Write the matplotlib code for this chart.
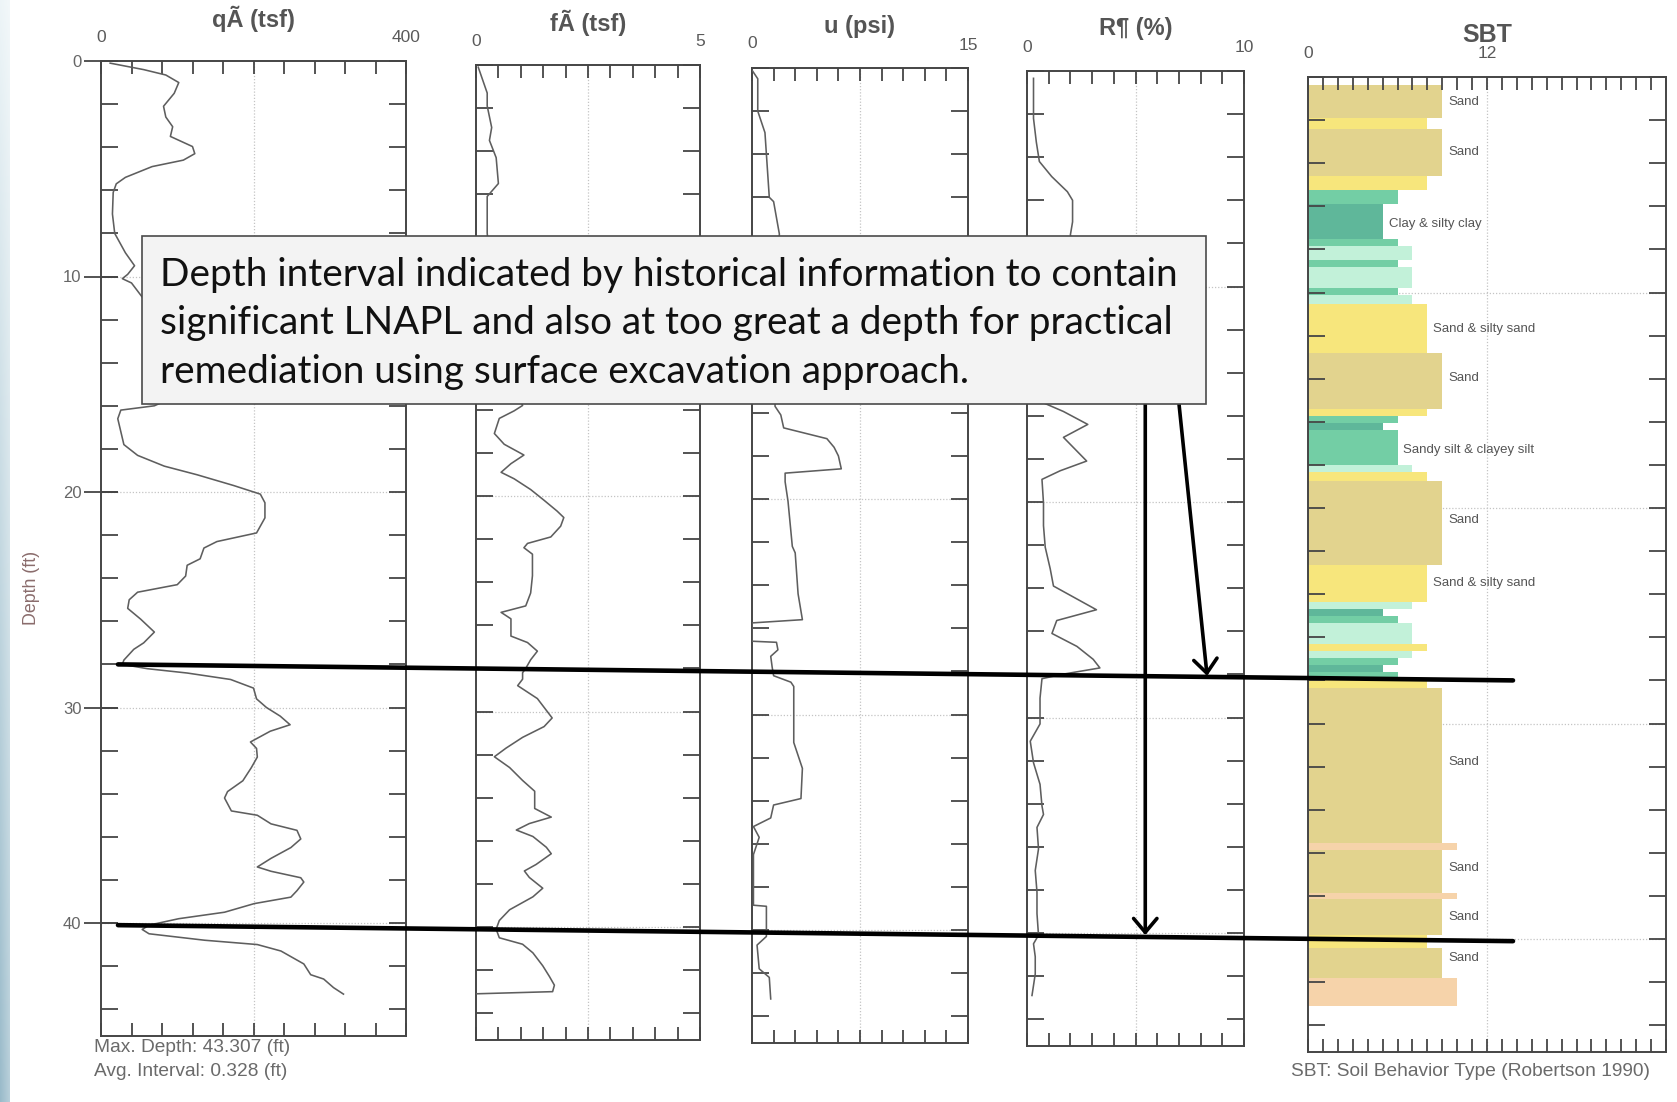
import numpy as np
import matplotlib
matplotlib.use('Agg')
import matplotlib.pyplot as plt
from matplotlib.patches import Rectangle, ConnectionPatch
from matplotlib.ticker import MultipleLocator
from matplotlib.transforms import blended_transform_factory as blend

plt.rcParams['font.family'] = ['Liberation Sans', 'DejaVu Sans']

# ---------------- data ----------------
qc_depth = [0.1, 0.4, 0.65, 1.0, 1.5, 2.1, 2.6, 3.05, 3.5, 3.97, 4.3, 4.6, 4.9, 5.4, 5.7, 6.1, 7.1, 8.0,
            8.9, 9.5, 9.9, 10.1, 10.3, 11.0, 12.0, 13.0, 14.0, 15.0, 15.6, 16.0, 16.2, 16.6, 17.8, 18.3,
            18.8, 19.2, 19.7, 20.1, 20.5, 21.2, 21.9, 22.3, 22.6, 23.1, 23.4, 23.9, 24.3, 24.65, 25.0,
            25.4, 25.9, 26.5, 27.0, 27.3, 27.8, 28.0, 28.2, 28.4, 28.7, 29.1, 29.6, 30.0, 30.4, 30.8,
            31.1, 31.6, 31.9, 32.3, 32.8, 33.4, 33.9, 34.2, 34.8, 35.0, 35.4, 35.7, 36.1, 36.5, 37.0,
            37.4, 37.6, 37.9, 38.1, 38.5, 38.8, 39.1, 39.5, 39.8, 40.1, 40.3, 40.5, 40.8, 41.0, 41.3,
            41.9, 42.4, 42.6, 43.0, 43.3]
qc_tsf = [12, 56, 85, 102, 96, 82, 85, 94, 91, 120, 123, 108, 67, 32, 20, 16, 15, 18, 32, 44, 35, 28,
          40, 55, 70, 85, 95, 100, 95, 70, 26, 22, 30, 48, 83, 126, 174, 209, 215, 215, 204, 152, 135,
          130, 113, 111, 100, 48, 37, 35, 52, 70, 56, 43, 30, 28, 61, 113, 170, 200, 204, 217, 235, 248,
          222, 196, 204, 205, 197, 186, 166, 162, 171, 205, 223, 257, 262, 249, 223, 205, 223, 262, 266,
          257, 249, 201, 162, 102, 63, 54, 63, 136, 205, 236, 266, 275, 292, 305, 318]

fs_depth = [0.1, 1.3, 1.9, 2.9, 3.5, 4.3, 5.5, 6.1, 7.8, 9.0, 11.0, 13.0, 15.0, 15.8, 16.05, 16.4, 17.1,
            17.6, 18.1, 18.5, 18.9, 19.2, 19.7, 20.2, 20.7, 21.0, 21.4, 21.9, 22.2, 22.4, 22.7, 23.7,
            24.5, 25.1, 25.4, 25.7, 26.5, 26.8, 27.2, 27.6, 28.0, 28.2, 28.5, 28.8, 29.4, 30.3, 30.7,
            31.2, 31.7, 32.1, 32.6, 33.2, 33.7, 34.2, 34.5, 34.9, 35.2, 35.5, 35.8, 36.3, 36.6, 37.1,
            37.4, 37.7, 38.2, 38.6, 39.2, 39.7, 40.1, 40.5, 40.8, 41.2, 41.8, 42.3, 42.7, 43.0, 43.1]
fs_tsf = [0.05, 0.25, 0.25, 0.35, 0.3, 0.45, 0.5, 0.25, 0.25, 0.3, 0.5, 0.7, 0.9, 1.04, 0.85, 0.52, 0.41,
          0.63, 1.07, 0.78, 0.56, 0.85, 1.22, 1.52, 1.81, 1.96, 1.89, 1.67, 1.15, 1.07, 1.26, 1.26, 1.22,
          1.11, 0.56, 0.78, 0.78, 1.15, 1.37, 1.22, 1.11, 1.04, 1.04, 0.93, 1.37, 1.70, 1.52, 1.04, 0.67,
          0.41, 0.75, 1.04, 1.31, 1.31, 1.31, 1.68, 1.19, 0.90, 1.27, 1.57, 1.68, 1.34, 1.08, 1.19, 1.49,
          1.27, 0.75, 0.52, 0.45, 0.52, 1.04, 1.27, 1.49, 1.64, 1.75, 1.71, 0.0]

u_depth = [0.1, 0.5, 2.0, 3.0, 6.0, 6.2, 7.7, 9.0, 12.0, 15.0, 15.7, 16.1, 16.7, 17.2, 17.6, 18.0, 18.6,
           18.8, 19.2, 20.1, 22.2, 22.5, 24.4, 25.6, 25.75, 26.6, 26.65, 27.0, 27.3, 27.8, 28.2, 28.5,
           28.7, 31.3, 32.5, 33.9, 34.2, 34.8, 35.2, 35.7, 36.5, 38.85, 38.9, 40.3, 40.7, 41.8, 42.2, 43.2]
u_psi = [0.0, 0.4, 0.4, 0.9, 1.2, 1.5, 1.9, 1.8, 1.7, 1.6, 1.6, 2.0, 2.2, 5.2, 5.7, 6.0, 6.2, 2.3, 2.3,
         2.5, 2.8, 3.0, 3.2, 3.5, 0.0, 0.0, 1.7, 1.8, 1.3, 1.4, 1.5, 2.7, 2.9, 2.9, 3.5, 3.4, 1.5, 1.3,
         0.1, 0.5, 0.1, 0.1, 1.0, 1.0, 0.35, 0.5, 1.2, 1.3]

rf_depth = [0.34, 2.2, 3.3, 4.2, 4.9, 5.6, 6.0, 7.0, 7.6, 9.0, 11.0, 13.0, 15.0, 15.4, 15.8, 16.4, 17.0,
            18.1, 18.55, 18.95, 20.05, 21.1, 22.1, 23.1, 23.9, 24.5, 25.0, 25.5, 26.1, 26.7, 27.3, 27.7,
            28.0, 28.2, 29.1, 30.3, 31.1, 32.1, 33.1, 34.1, 34.5, 35.1, 36.1, 37.1, 38.1, 39.1, 40.1,
            40.5, 41.1, 41.9, 42.9]
rf_pct = [0.3, 0.3, 0.43, 0.57, 1.14, 1.86, 2.1, 2.1, 2.0, 2.3, 1.5, 1.2, 1.0, 0.76, 1.68, 2.8, 1.68,
          2.75, 1.53, 0.69, 0.76, 0.76, 0.84, 1.07, 1.22, 2.3, 3.2, 1.37, 1.15, 2.3, 3.05, 3.36, 1.6,
          0.69, 0.6, 0.6, 0.15, 0.3, 0.6, 0.69, 0.76, 0.46, 0.53, 0.38, 0.46, 0.46, 0.53, 0.3, 0.38,
          0.38, 0.23]

sbt_top = [0.37, 1.9, 2.4, 4.6, 5.26, 5.9, 7.53, 7.86, 8.51, 8.83, 9.81, 10.13, 10.54, 12.82, 15.41,
           15.74, 16.06, 16.39, 18.02, 18.34, 18.75, 22.65, 24.36, 24.68, 25.01, 25.33, 26.31, 26.63,
           26.96, 27.28, 27.61, 27.9, 28.35, 35.55, 35.87, 37.87, 38.15, 39.8, 40.4, 41.8]
sbt_bottom_end = 43.1
sbt_zone = [9, 8, 9, 8, 6, 5, 6, 7, 6, 7, 6, 7, 8, 9, 8, 6, 5, 6, 7, 8, 9, 8, 7, 5, 6, 7, 8, 7, 6, 5,
            6, 8, 9, 10, 9, 10, 9, 8, 9, 10]
zone_colors = {5: '#5fb79a', 6: '#73cea5', 7: '#c2f1d9', 8: '#f7e67c', 9: '#e2d38e', 10: '#f6d3aa'}

label_depth = [1.14, 3.5, 6.8, 11.7, 13.95, 17.3, 20.55, 23.5, 31.8, 36.7, 39.0, 40.9]
label_text = ['Sand', 'Sand', 'Clay & silty clay', 'Sand & silty sand', 'Sand',
              'Sandy silt & clayey silt', 'Sand', 'Sand & silty sand', 'Sand', 'Sand', 'Sand', 'Sand']
label_zone = [9, 9, 5, 8, 9, 6, 9, 8, 9, 9, 9, 9]

titles = ['qÃ (tsf)', 'fÃ (tsf)', 'u (psi)', 'R¶ (%)', 'SBT']
x_max = [400, 5, 15, 10, 24]
x_max_label = ['400', '5', '15', '10', '12']
x_step = [40, 0.5, 1.5, 1, 1]
depth_ticks = [0, 10, 20, 30, 40]

# ---------------- layout ----------------
W, H = 1677, 1102
fig = plt.figure(figsize=(W / 100, H / 100), dpi=100)
fig.patch.set_facecolor('white')

PX_FT = 21.55
DMAX = 45.25
PH = DMAX * PX_FT
panel_px = [(101, 406, 61), (476, 700, 65), (752, 968, 68), (1027, 1244, 71), (1308, 1666, 77)]

FRAME = '#454545'
axes = []
for i, (l, r, t) in enumerate(panel_px):
    ax = fig.add_axes([l / W, 1 - (t + PH) / H, (r - l) / W, PH / H])
    ax.set_xlim(0, x_max[i])
    ax.set_ylim(DMAX, 0)
    for s in ax.spines.values():
        s.set_color(FRAME)
        s.set_linewidth(1.4)
    ax.xaxis.set_major_locator(MultipleLocator(x_step[i]))
    ax.tick_params(axis='x', which='major', direction='in', top=True, bottom=True, length=9.5,
                   width=1.3, color=FRAME, labelbottom=False, labeltop=False)
    if i == 0:
        ax.set_yticks(depth_ticks)
        ax.tick_params(axis='y', which='major', direction='inout', length=24, width=1.3, color=FRAME,
                       left=True, right=False, labelsize=12, labelcolor='#666666', pad=2)
    else:
        ax.set_yticks([])
    ax.set_ylim(DMAX, 0)
    ax.yaxis.set_minor_locator(MultipleLocator(2))
    ax.yaxis.remove_overlapping_locs = False
    ax.tick_params(axis='y', which='minor', direction='in', left=True, right=True, length=12,
                   width=1.3, color=FRAME)
    # dotted grid
    ax.axvline(x_max[i] / 2, ls=(0, (1, 1.5)), color='#c4c4c4', lw=0.9, zorder=0.5)
    for d in depth_ticks[1:]:
        ax.axhline(d, ls=(0, (1, 1.5)), color='#c4c4c4', lw=0.9, zorder=0.5)
    # titles and end labels
    ax.text(0.5, 1 + 42 / PH, titles[i], transform=ax.transAxes, ha='center', va='center',
            fontsize=18 if i == 4 else 17, fontweight='bold', color='#555555')
    ax.text(0, 1 + 24 / PH, '0', transform=ax.transAxes, ha='center', va='center',
            fontsize=12.5, color='#5a5a5a')
    ax.text(0.5 if i == 4 else 1, 1 + 23 / PH, x_max_label[i], transform=ax.transAxes,
            ha='center', va='center', fontsize=12.5, color='#5a5a5a')
    axes.append(ax)

ax1, ax2, ax3, ax4, ax5 = axes
curve_kw = dict(color='#5e5e5e', lw=1.15, zorder=3)
ax1.plot(qc_tsf, qc_depth, **curve_kw)
ax2.plot(fs_tsf, fs_depth, **curve_kw)
ax3.plot(u_psi, u_depth, **curve_kw)
ax4.plot(rf_pct, rf_depth, **curve_kw)

sbt_bottom = list(sbt_top[1:]) + [sbt_bottom_end]
heights = np.array(sbt_bottom) - np.array(sbt_top)
ax5.barh(sbt_top, sbt_zone, height=heights, left=0, align='edge',
         color=[zone_colors[z] for z in sbt_zone], edgecolor='none', zorder=1)
for d, txt, z in zip(label_depth, label_text, label_zone):
    ax5.text(z + 0.4, d, txt, ha='left', va='center', fontsize=9.5, color='#555555', zorder=4)

# ---------------- overlay ----------------
ov = fig.add_axes([0, 0, 1, 1], zorder=10)
ov.axis('off')
ov.patch.set_alpha(0)

# left slide-background strip
grad_v = np.linspace(0, 1, 200)[:, None]
grad_h = np.linspace(1, 0, 20)[None, :]
top_c = np.array([0.93, 0.96, 0.97])
bot_c = np.array([0.60, 0.73, 0.79])
col = top_c[None, None, :] * (1 - grad_v[..., None]) + bot_c[None, None, :] * grad_v[..., None]
col = col * (0.7 + 0.3 * grad_h[..., None]) + np.ones(3) * (0.3 - 0.3 * grad_h[..., None])
col = np.clip(col * np.ones((200, 20, 3)), 0, 1)
ov.imshow(col, extent=(0, 10, H, 0), aspect='auto', zorder=0)
ov.set_xlim(0, W)
ov.set_ylim(H, 0)

ov.add_patch(Rectangle((142, 236), 1064, 168, facecolor='#f3f3f3', edgecolor='#4a4a4a', lw=1.2,
                       zorder=2))
box_lines = ['Depth interval indicated by historical information to contain',
             'significant LNAPL and also at too great a depth for practical',
             'remediation using surface excavation approach.']
line_y = [275, 323, 372]
tobjs = [ov.text(160, y, s, ha='left', va='center', fontsize=24, family=['Lato', 'DejaVu Sans'],
                 color='#111111', zorder=3) for s, y in zip(box_lines, line_y)]
fig.canvas.draw()
r = fig.canvas.get_renderer()
w0 = tobjs[0].get_window_extent(r).width
fsz = 24 * 1019 / w0
for t in tobjs:
    t.set_fontsize(fsz)

# horizontal marker lines
for d in [28.0, 40.1]:
    con = ConnectionPatch(xyA=(118, d), coordsA=blend(ov.transData, ax1.transData),
                          xyB=(1513, d), coordsB=blend(ov.transData, ax5.transData),
                          color='black', lw=3.3, zorder=5)
    fig.add_artist(con)

# arrows from box
arr1 = ConnectionPatch(xyA=(5.45, 404), coordsA=blend(ax4.transData, ov.transData),
                       xyB=(5.45, 40.1), coordsB=ax4.transData,
                       arrowstyle='->,head_length=0.5,head_width=0.42', mutation_scale=20,
                       color='black', lw=2.6, zorder=6)
fig.add_artist(arr1)
arr2 = ConnectionPatch(xyA=(1179, 404), coordsA=ov.transData,
                       xyB=(8.3, 28.07), coordsB=ax4.transData,
                       arrowstyle='->,head_length=0.5,head_width=0.42', mutation_scale=20,
                       color='black', lw=2.6, zorder=6)
fig.add_artist(arr2)

# footer texts
ov.text(94, 1048, 'Max. Depth: 43.307 (ft)', ha='left', va='center', fontsize=13.8, color='#6a6a6a')
ov.text(94, 1071, 'Avg. Interval: 0.328 (ft)', ha='left', va='center', fontsize=13.8, color='#6a6a6a')
ov.text(1291, 1072, 'SBT: Soil Behavior Type (Robertson 1990)', ha='left', va='center',
        fontsize=13.8, color='#6a6a6a')
ov.text(32, 588, 'Depth (ft)', rotation=90, ha='center', va='center', fontsize=12.8, color='#8a6c6c')

fig.savefig('out.png', dpi=100)
